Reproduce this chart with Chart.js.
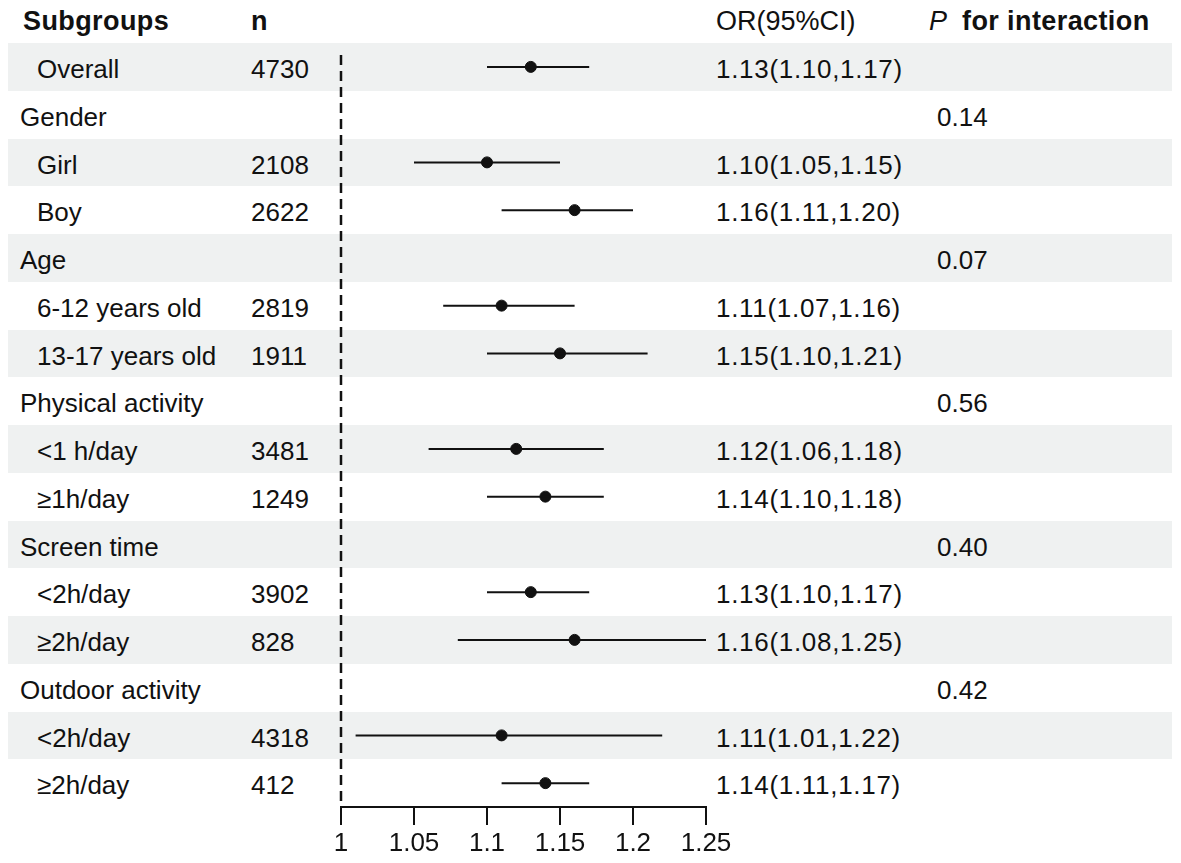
<!DOCTYPE html>
<html>
<head>
<meta charset="utf-8">
<script src="https://cdn.jsdelivr.net/npm/chart.js@4.4.1/dist/chart.umd.min.js"></script>
<style>
  html, body { margin: 0; padding: 0; background: #fff; }
  #wrap { position: relative; width: 1181px; height: 863px; overflow: hidden;
          font-family: "Liberation Sans", Arial, sans-serif; font-size: 26px; color: #111; }
  .row { position: absolute; left: 8px; width: 1164px; }
  .row.shade { background: #eff1f1; }
  .cell { position: absolute; top: 3px; white-space: nowrap; }
  .cell.or { letter-spacing: 0.7px; }
  .head { position: absolute; top: 0; height: 43px; line-height: 43px; white-space: nowrap; font-size: 27px; }
  .head b { letter-spacing: 0.4px; }
  #forest { position: absolute; left: 0; top: 0; }
</style>
</head>
<body>
<div id="wrap">
  <div id="table"></div>
  <canvas id="forest" width="1181" height="863"></canvas>
</div>
<script>
// Données du forest plot (une ligne par sous-groupe)
const subgroups = ["Overall", "Gender", "Girl", "Boy", "Age", "6-12 years old", "13-17 years old",
  "Physical activity", "<1 h/day", "≥1h/day", "Screen time", "<2h/day", "≥2h/day",
  "Outdoor activity", "<2h/day", "≥2h/day"];
const isGroupHeader = [false, true, false, false, true, false, false,
  true, false, false, true, false, false, true, false, false];
const counts = ["4730", "", "2108", "2622", "", "2819", "1911",
  "", "3481", "1249", "", "3902", "828", "", "4318", "412"];
const oddsRatio = [1.13, null, 1.10, 1.16, null, 1.11, 1.15, null, 1.12, 1.14, null, 1.13, 1.16, null, 1.11, 1.14];
const ciLower = [1.10, null, 1.05, 1.11, null, 1.07, 1.10, null, 1.06, 1.10, null, 1.10, 1.08, null, 1.01, 1.11];
const ciUpper = [1.17, null, 1.15, 1.20, null, 1.16, 1.21, null, 1.18, 1.18, null, 1.17, 1.25, null, 1.22, 1.17];
const pInteraction = ["", "0.14", "", "", "0.07", "", "", "0.56", "", "", "0.40", "", "", "0.42", "", ""];
const xTicks = [1, 1.05, 1.1, 1.15, 1.2, 1.25];

const TOP = 43;
const ROW_H = 47.75;
const FONT = '"Liberation Sans", Arial, sans-serif';

// Tableau de gauche et de droite (texte HTML)
const table = document.getElementById("table");
const heads = [
  { left: 23, html: "<b>Subgroups</b>" },
  { left: 251, html: "<b>n</b>" },
  { left: 716, html: "OR(95%CI)" },
  { left: 929, html: "<i>P</i>&nbsp; <b>for interaction</b>" },
];
heads.forEach((h) => {
  const d = document.createElement("div");
  d.className = "head";
  d.style.left = h.left + "px";
  d.innerHTML = h.html;
  table.appendChild(d);
});

subgroups.forEach((name, i) => {
  const row = document.createElement("div");
  row.className = "row" + (i % 2 === 0 ? " shade" : "");
  row.style.top = TOP + i * ROW_H + "px";
  row.style.height = ROW_H + "px";
  row.style.lineHeight = ROW_H + "px";

  const cells = [
    { left: isGroupHeader[i] ? 12 : 29, text: name },
    { left: 243, text: counts[i] },
    { left: 708, cls: "or", text: oddsRatio[i] === null ? "" :
        oddsRatio[i].toFixed(2) + "(" + ciLower[i].toFixed(2) + "," + ciUpper[i].toFixed(2) + ")" },
    { left: 929, text: pInteraction[i] },
  ];
  cells.forEach((c) => {
    if (!c.text) return;
    const s = document.createElement("div");
    s.className = "cell" + (c.cls ? " " + c.cls : "");
    s.style.left = c.left + "px";
    s.textContent = c.text;
    row.appendChild(s);
  });
  table.appendChild(row);
});

// Segments des IC et points des OR
const whiskers = [];
const points = [];
oddsRatio.forEach((or, i) => {
  if (or === null) return;
  whiskers.push({
    type: "line",
    data: [{ x: ciLower[i], y: i }, { x: ciUpper[i], y: i }],
    borderColor: "#111",
    borderWidth: 2,
    pointRadius: 0,
  });
  points.push({ x: or, y: i });
});

const ctx = document.getElementById("forest").getContext("2d");
const forestChart = new Chart(ctx, {
  type: "scatter",
  data: {
    datasets: [
      {
        // ligne de référence OR = 1
        type: "line",
        data: [{ x: 1, y: -0.25 }, { x: 1, y: subgroups.length - 0.5 }],
        borderColor: "#111",
        borderWidth: 2.5,
        borderDash: [10, 6],
        pointRadius: 0,
        clip: false,
      },
      ...whiskers,
      {
        data: points,
        backgroundColor: "#111",
        borderColor: "#111",
        pointRadius: 5.5,
      },
    ],
  },
  options: {
    responsive: false,
    animation: false,
    layout: { padding: { left: 341, right: 1181 - 706, top: TOP, bottom: 0 } },
    plugins: { legend: { display: false }, tooltip: { enabled: false } },
    scales: {
      x: {
        type: "linear",
        min: 1,
        max: 1.25,
        afterFit: (scale) => { scale.height = 863 - (TOP + subgroups.length * ROW_H); },
        afterBuildTicks: (scale) => { scale.ticks = xTicks.map((v) => ({ value: v })); },
        ticks: {
          color: "#111",
          font: { family: FONT, size: 26 },
          padding: 3,
          maxRotation: 0,
          autoSkip: false,
          callback: (v) => String(parseFloat(Number(v).toFixed(2))),
        },
        grid: { drawOnChartArea: false, tickLength: 18, color: "#111", lineWidth: 2 },
        border: { display: true, color: "#111", width: 2 },
      },
      y: {
        type: "linear",
        min: -0.5,
        max: subgroups.length - 0.5,
        reverse: true,
        display: false,
      },
    },
  },
});
</script>
</body>
</html>
